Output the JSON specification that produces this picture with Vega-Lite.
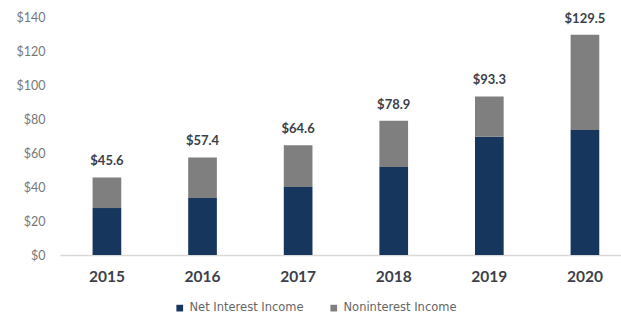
{
  "$schema": "https://vega.github.io/schema/vega-lite/v6.json",
  "width": 561,
  "height": 238,
  "autosize": {"type": "none"},
  "padding": {"left": 60, "top": 17, "right": 0, "bottom": 60},
  "background": "white",
  "config": {"view": {"stroke": null}, "font": "Lato"},
  "datasets": {
    "bars": [
      {"year": "2015", "type": "Net Interest Income", "value": 27.6},
      {"year": "2015", "type": "Noninterest Income", "value": 18.0},
      {"year": "2016", "type": "Net Interest Income", "value": 33.5},
      {"year": "2016", "type": "Noninterest Income", "value": 23.9},
      {"year": "2017", "type": "Net Interest Income", "value": 40.0},
      {"year": "2017", "type": "Noninterest Income", "value": 24.6},
      {"year": "2018", "type": "Net Interest Income", "value": 51.8},
      {"year": "2018", "type": "Noninterest Income", "value": 27.1},
      {"year": "2019", "type": "Net Interest Income", "value": 69.5},
      {"year": "2019", "type": "Noninterest Income", "value": 23.8},
      {"year": "2020", "type": "Net Interest Income", "value": 73.5},
      {"year": "2020", "type": "Noninterest Income", "value": 56.0}
    ],
    "totals": [
      {"year": "2015", "total": 45.6, "label": "$45.6"},
      {"year": "2016", "total": 57.4, "label": "$57.4"},
      {"year": "2017", "total": 64.6, "label": "$64.6"},
      {"year": "2018", "total": 78.9, "label": "$78.9"},
      {"year": "2019", "total": 93.3, "label": "$93.3"},
      {"year": "2020", "total": 129.5, "label": "$129.5"}
    ]
  },
  "encoding": {
    "x": {
      "field": "year",
      "type": "ordinal",
      "scale": {"paddingInner": 0.7, "paddingOuter": 0.284, "align": 0.6},
      "axis": {
        "title": null,
        "labelAngle": 0,
        "labelFontSize": 15.5,
        "labelFontWeight": "bold",
        "labelColor": "#3b3f4a",
        "labelPadding": 14,
        "ticks": false,
        "domainColor": "#d9d9d9",
        "domainWidth": 1.5
      }
    }
  },
  "layer": [
    {
      "data": {"name": "bars"},
      "mark": {"type": "bar"},
      "encoding": {
        "y": {
          "field": "value",
          "type": "quantitative",
          "stack": "zero",
          "scale": {"domain": [0, 140], "nice": false},
          "axis": {
            "title": null,
            "values": [0, 20, 40, 60, 80, 100, 120, 140],
            "labelExpr": "'$' + datum.value",
            "labelOverlap": false,
            "labelFontSize": 12.5,
            "labelColor": "#777777",
            "labelPadding": 15,
            "ticks": false,
            "domain": false,
            "grid": false
          }
        },
        "color": {
          "field": "type",
          "type": "nominal",
          "scale": {
            "domain": ["Net Interest Income", "Noninterest Income"],
            "range": ["#17365d", "#7f7f7f"]
          },
          "legend": {
            "title": null,
            "orient": "none",
            "legendX": 114,
            "legendY": 285,
            "direction": "horizontal",
            "symbolType": "square",
            "symbolSize": 45,
            "symbolStrokeWidth": 0,
            "labelFont": "DejaVu Sans",
            "labelFontSize": 11.5,
            "labelColor": "#666666",
            "columnPadding": 24,
            "labelOffset": 4,
            "labelLimit": 300
          }
        },
        "order": {"field": "type", "sort": "ascending"}
      }
    },
    {
      "data": {"name": "totals"},
      "mark": {
        "type": "text",
        "baseline": "bottom",
        "dy": -9,
        "fontSize": 13,
        "fontWeight": "bold",
        "color": "#3b3f4a"
      },
      "encoding": {
        "y": {
          "field": "total",
          "type": "quantitative",
          "axis": {
            "title": null,
            "values": [0, 20, 40, 60, 80, 100, 120, 140],
            "labelExpr": "'$' + datum.value",
            "labelOverlap": false,
            "labelFontSize": 12.5,
            "labelColor": "#777777",
            "labelPadding": 15,
            "ticks": false,
            "domain": false,
            "grid": false
          }
        },
        "text": {"field": "label"}
      }
    }
  ]
}
